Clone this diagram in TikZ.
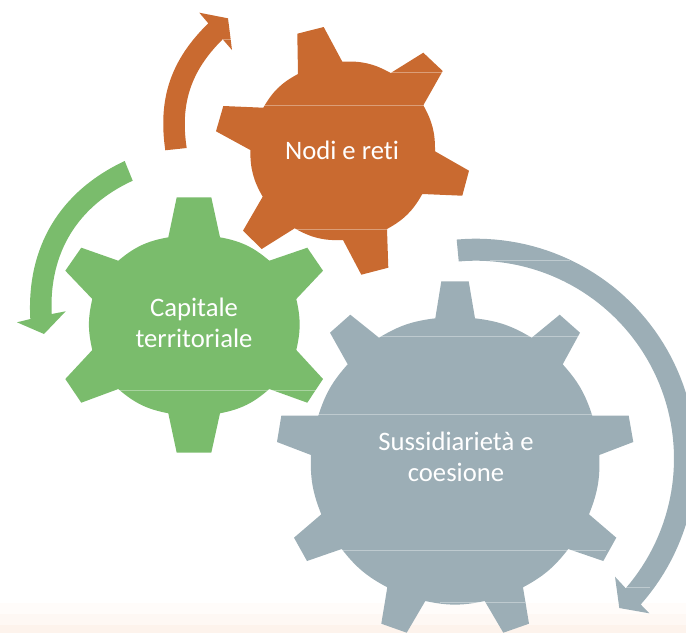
\documentclass[tikz,border=0pt]{standalone}
\usepackage{fontspec}
\setmainfont[Ligatures={NoCommon}]{Carlito}
\definecolor{orangeg}{HTML}{C96A30}
\definecolor{greeng}{HTML}{7ABC6C}
\definecolor{greyg}{HTML}{9CAEB6}
\definecolor{bandA}{HTML}{FFFCFA}
\definecolor{bandB}{HTML}{FEF8F4}
\definecolor{bandC}{HTML}{FDF3EC}
\tikzset{
  gearfill/.style={fill=#1,draw=none},
  seam/.style={draw=white,draw opacity=0.35,line width=0.5pt},
  label/.style={text=white,align=center,font=\fontsize{20}{23}\selectfont,inner sep=0pt}
}
\begin{document}
\begin{tikzpicture}[x=0.75pt,y=-0.75pt]
\useasboundingbox (0,0) rectangle (686,633);
\clip (0,0) rectangle (686,633);
\fill[bandA] (0,603) rectangle (686,614);
\fill[bandB] (0,614) rectangle (686,625);
\fill[bandC] (0,625) rectangle (686,633);
% orange arrow
\path[gearfill=orangeg] (165.3,150.3) to[bend left=27] (208.3,23.3) -- (199.3,12.7) -- (228,18.3) -- (232,50) -- (222.7,39.3) to[bend right=27] (186.7,148) -- cycle;
\draw[seam] (222,39.3) -- (232,39.3);
% green arrow
\path[gearfill=greeng] (124.7,161) to[bend right=34] (30.3,319) -- (17,322.3) -- (44,334) -- (65.7,311.3) -- (51.7,314) to[bend left=34] (132.7,180.7) -- cycle;
% grey arrow
\path[gearfill=greyg] (456.7,240) -- plot[domain=-95:41.5,samples=70] ({476+220*cos(\x)},{458.7+220*sin(\x)}) -- (649.3,613.3) -- (619.3,608) -- (615,576.7) -- (624.3,586.7) -- plot[domain=40.9:-95,samples=70] ({476+198*cos(\x)},{458.7+198*sin(\x)}) -- cycle;
\draw[seam] (490,260.5) -- (570,260.5);
\draw[seam] (625,587) -- (650,587);
% orange gear
\path[gearfill=orangeg] (298,74) -- (297.3,33.7) -- (323.7,27) -- (342.3,61.7) to[bend left=16] (390.7,73) -- (423.3,52.7) -- (442.7,71) -- (423.3,105.3) to[bend left=15] (435,151.3) -- (469,170.7) -- (462.3,195.7) -- (422.3,194) to[bend left=16] (387,229) -- (388.3,267.7) -- (361.3,274.7) -- (343,240) to[bend left=16] (294.7,228.3) -- (261.7,249) -- (243,230.7) -- (262.7,196.7) to[bend left=15] (250.3,150) -- (216,131.3) -- (223.3,106) -- (263.3,107.7) to[bend left=16] cycle;
\draw[seam] (263.3,105.7) -- (423,105.7);
\draw[seam] (391,72) -- (441.7,72);
\draw[seam] (295,229.3) -- (387,229.3);
% green gear
\path[gearfill=greeng] (168.3,237.3) -- (176.7,197.3) -- (211.3,197.3) -- (220,237.3) to[bend left=15] (269.3,260.7) -- (307.3,247.7) -- (323,270.7) -- (296.3,299) to[bend left=13] (296.3,350) -- (323,379) -- (307.3,402.7) -- (269.3,389) to[bend left=15] (220,413.3) -- (211.3,452.7) -- (176.7,452.7) -- (168.3,413.3) to[bend left=15] (118.3,389) -- (81.3,402.7) -- (65.3,379) -- (92.3,350) to[bend left=13] (92.3,299) -- (65.3,270.7) -- (81.3,247.7) -- (118.3,260.7) to[bend left=15] cycle;
\draw[seam] (118,390) -- (316,390);
% grey gear
\path[gearfill=greyg] (435.3,318.3) -- (441.3,281.3) -- (468.7,281.3) -- (475,318.3) to[bend left=12] (531.7,337.7) -- (559.7,314.7) -- (580,332.7) -- (562.7,364.3) to[bend left=12] (592.3,415.7) -- (628.7,415.7) -- (633.3,442) -- (599.3,455) to[bend left=12] (589,514.3) -- (616.3,537.7) -- (603.3,561) -- (568.3,549) to[bend left=12] (523,587.3) -- (529,623.7) -- (503.3,632.7) -- (484.7,601) to[bend left=12] (425.3,601) -- (406.7,632.7) -- (381.3,623.7) -- (387.3,587.3) to[bend left=12] (341.7,549) -- (307,561) -- (294,537.7) -- (321.3,514.3) to[bend left=12] (311,455) -- (277,442) -- (281.3,415.7) -- (318.3,415.7) to[bend left=12] (347.7,364.3) -- (330,332.7) -- (350.3,314.7) -- (379,337.7) to[bend left=12] cycle;
\draw[seam] (379,336.5) -- (578,336.5);
\draw[seam] (318,414) -- (592,414);
\draw[seam] (342,550) -- (606,550);
\draw[seam] (440,602) -- (525,602);
% labels
\node[label] (nodi) at (342,150) {Nodi e reti};
\node[label] (capitale) at (194,323) {Capitale\\territoriale};
\node[label] (sussidiarieta) at (456,457) {Sussidiarietà e\\coesione};
\end{tikzpicture}
\end{document}
